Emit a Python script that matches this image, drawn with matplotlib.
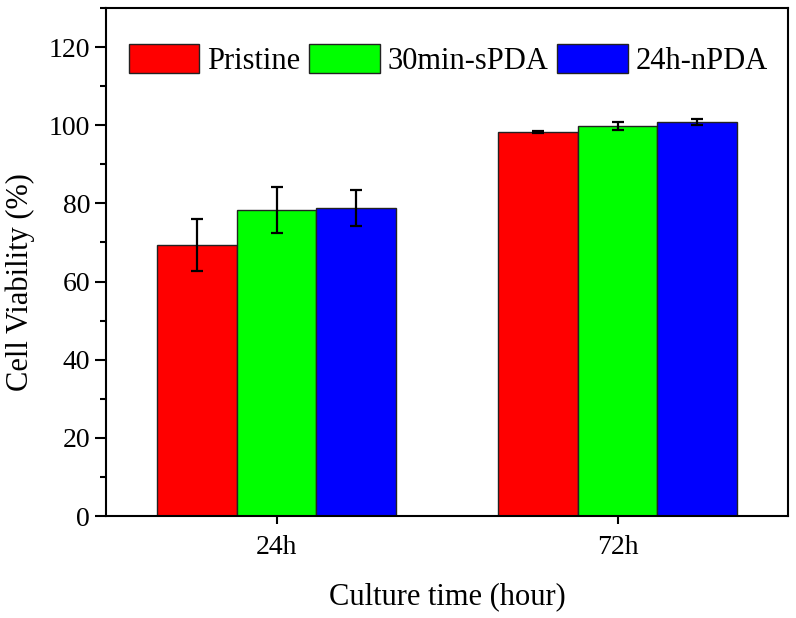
import numpy as np
import matplotlib
matplotlib.use('Agg')
from matplotlib import pyplot as plt
from matplotlib.ticker import MultipleLocator

plt.rcParams['font.family'] = ['Liberation Serif', 'DejaVu Serif']

times = ['24h', '72h']
groups = ['Pristine', '30min-sPDA', '24h-nPDA']
colors = ['#FF0000', '#00FF00', '#0000FF']
pristine = [69.4, 98.3]
pristine_err = [6.6, 0.3]
spda = [78.2, 99.8]
spda_err = [5.9, 0.9]
npda = [78.9, 100.8]
npda_err = [4.6, 0.8]

values = [pristine, spda, npda]
errors = [pristine_err, spda_err, npda_err]

fig = plt.figure(figsize=(7.96, 6.18), dpi=100)
ax = fig.add_axes([106/796, 1-516/618, 682/796, 508/618])

x = np.arange(1, len(times) + 1)
w = 0.7 / 3
for i in range(3):
    ax.bar(x + (i - 1) * w, values[i], w, color=colors[i], edgecolor='#222222',
           linewidth=1.0, label=groups[i],
           yerr=errors[i], capsize=4, error_kw=dict(ecolor='black', elinewidth=1.6, capthick=1.6))

ax.set_xlim(0.5, 2.5)
ax.set_ylim(0, 130)
ax.set_xticks(x)
ax.set_xticklabels(times)
ax.yaxis.set_major_locator(MultipleLocator(20))
ax.yaxis.set_minor_locator(MultipleLocator(10))
ax.tick_params(axis='both', labelsize=20, width=1.5, length=8, direction='out')
ax.tick_params(axis='y', which='minor', width=1.5, length=4)
ax.tick_params(axis='x', length=6, pad=8)
for s in ax.spines.values():
    s.set_linewidth(1.5)

ax.set_xlabel('Culture time (hour)', fontsize=22, labelpad=16)
ax.set_ylabel('Cell Viability (%)', fontsize=22)
ax.yaxis.set_label_coords(-0.104, 0.46)

ax.legend(loc='upper left', bbox_to_anchor=(0.034, 0.93), ncol=3, frameon=False,
          fontsize=22, handlelength=2.3, handleheight=1.1, handletextpad=0.25,
          columnspacing=0.3, borderpad=0, borderaxespad=0)

plt.savefig('out.png', dpi=100)
